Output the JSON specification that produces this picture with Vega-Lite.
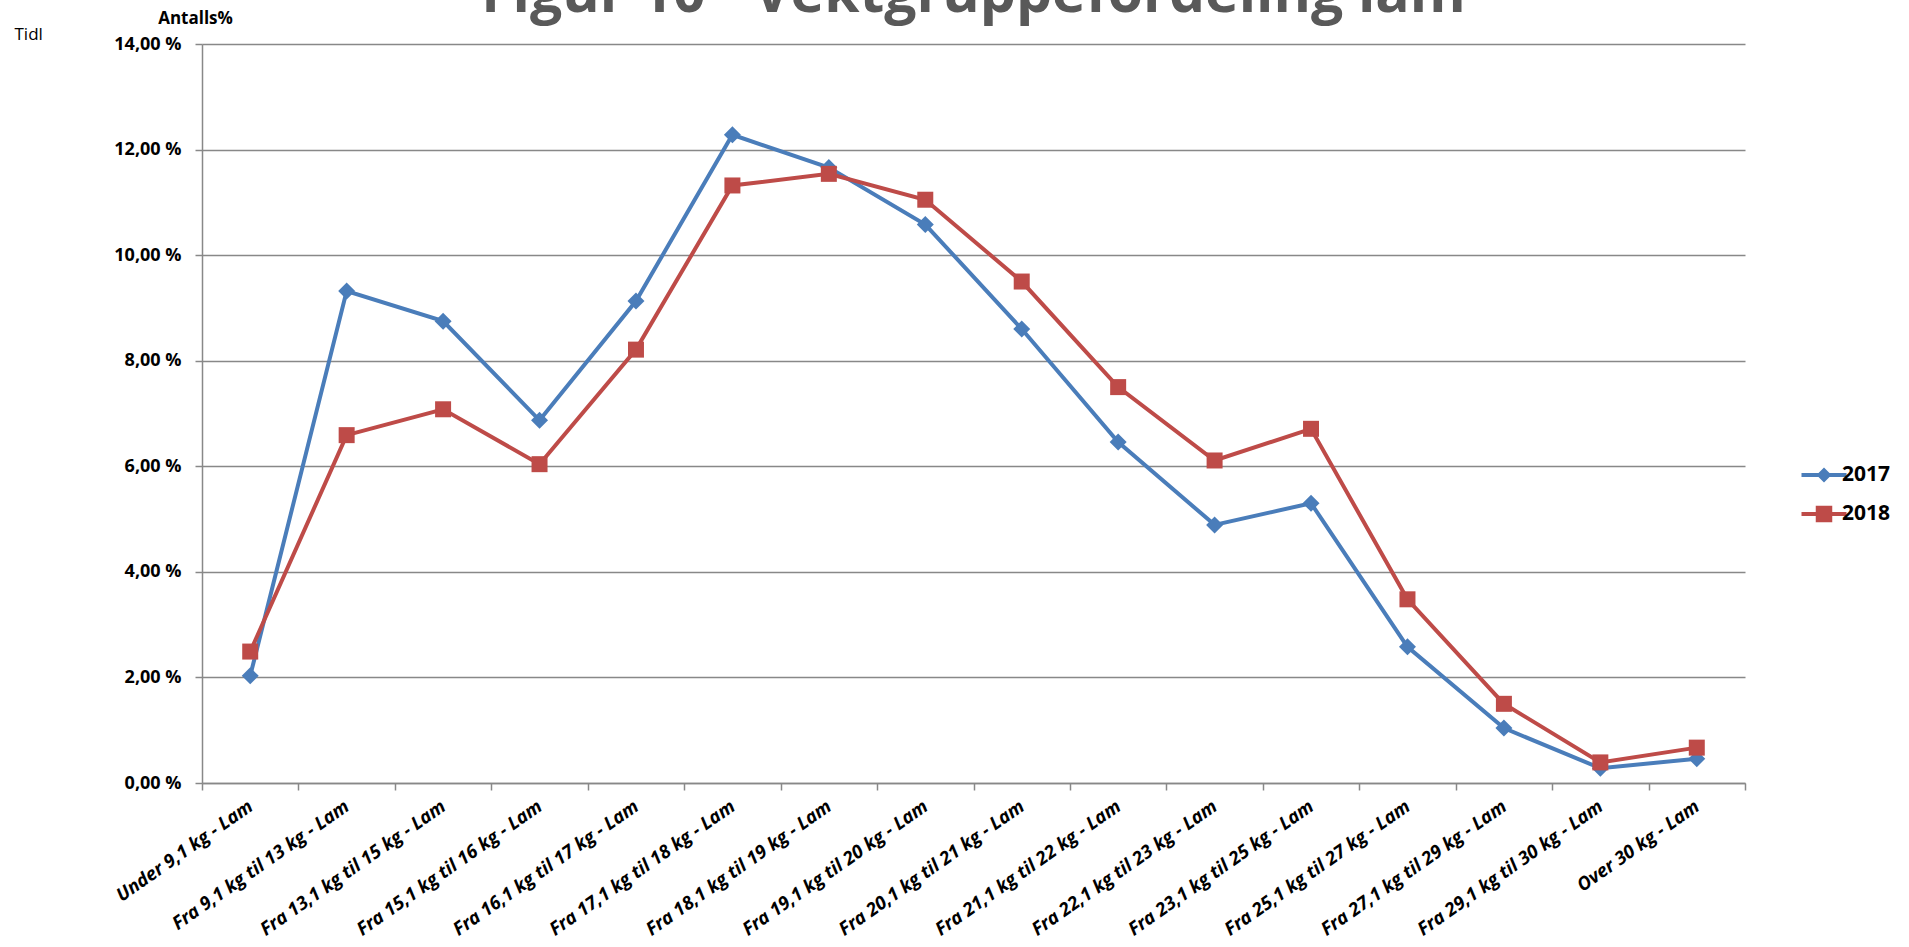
{
  "$schema": "https://vega.github.io/schema/vega-lite/v6.json",
  "autosize": {"type": "none"},
  "width": 1543,
  "height": 739,
  "padding": {"left": 202, "top": 44, "right": 164, "bottom": 164},
  "background": "white",
  "title": {
    "text": "Figur 10 - Vektgruppefordeling lam",
    "font": "Open Sans",
    "fontSize": 57,
    "fontWeight": "bold",
    "color": "#595959",
    "anchor": "middle",
    "frame": "group",
    "baseline": "alphabetic",
    "offset": -60
  },
  "data": {
    "values": [
      {"kategori": "Under 9,1 kg - Lam", "year": "2017", "andel": 2.03},
      {"kategori": "Fra 9,1 kg til 13 kg - Lam", "year": "2017", "andel": 9.32},
      {"kategori": "Fra 13,1 kg til 15 kg - Lam", "year": "2017", "andel": 8.75},
      {"kategori": "Fra 15,1 kg til 16 kg - Lam", "year": "2017", "andel": 6.87},
      {"kategori": "Fra 16,1 kg til 17 kg - Lam", "year": "2017", "andel": 9.13},
      {"kategori": "Fra 17,1 kg til 18 kg - Lam", "year": "2017", "andel": 12.28},
      {"kategori": "Fra 18,1 kg til 19 kg - Lam", "year": "2017", "andel": 11.66},
      {"kategori": "Fra 19,1 kg til 20 kg - Lam", "year": "2017", "andel": 10.58},
      {"kategori": "Fra 20,1 kg til 21 kg - Lam", "year": "2017", "andel": 8.6},
      {"kategori": "Fra 21,1 kg til 22 kg - Lam", "year": "2017", "andel": 6.46},
      {"kategori": "Fra 22,1 kg til 23 kg - Lam", "year": "2017", "andel": 4.89},
      {"kategori": "Fra 23,1 kg til 25 kg - Lam", "year": "2017", "andel": 5.3},
      {"kategori": "Fra 25,1 kg til 27 kg - Lam", "year": "2017", "andel": 2.58},
      {"kategori": "Fra 27,1 kg til 29 kg - Lam", "year": "2017", "andel": 1.04},
      {"kategori": "Fra 29,1 kg til 30 kg - Lam", "year": "2017", "andel": 0.28},
      {"kategori": "Over 30 kg - Lam", "year": "2017", "andel": 0.46},
      {"kategori": "Under 9,1 kg - Lam", "year": "2018", "andel": 2.49},
      {"kategori": "Fra 9,1 kg til 13 kg - Lam", "year": "2018", "andel": 6.59},
      {"kategori": "Fra 13,1 kg til 15 kg - Lam", "year": "2018", "andel": 7.08},
      {"kategori": "Fra 15,1 kg til 16 kg - Lam", "year": "2018", "andel": 6.04},
      {"kategori": "Fra 16,1 kg til 17 kg - Lam", "year": "2018", "andel": 8.21},
      {"kategori": "Fra 17,1 kg til 18 kg - Lam", "year": "2018", "andel": 11.32},
      {"kategori": "Fra 18,1 kg til 19 kg - Lam", "year": "2018", "andel": 11.54},
      {"kategori": "Fra 19,1 kg til 20 kg - Lam", "year": "2018", "andel": 11.05},
      {"kategori": "Fra 20,1 kg til 21 kg - Lam", "year": "2018", "andel": 9.5},
      {"kategori": "Fra 21,1 kg til 22 kg - Lam", "year": "2018", "andel": 7.5},
      {"kategori": "Fra 22,1 kg til 23 kg - Lam", "year": "2018", "andel": 6.11},
      {"kategori": "Fra 23,1 kg til 25 kg - Lam", "year": "2018", "andel": 6.71},
      {"kategori": "Fra 25,1 kg til 27 kg - Lam", "year": "2018", "andel": 3.48},
      {"kategori": "Fra 27,1 kg til 29 kg - Lam", "year": "2018", "andel": 1.5},
      {"kategori": "Fra 29,1 kg til 30 kg - Lam", "year": "2018", "andel": 0.39},
      {"kategori": "Over 30 kg - Lam", "year": "2018", "andel": 0.67}
    ]
  },
  "encoding": {
    "x": {
      "field": "kategori",
      "type": "nominal",
      "sort": ["Under 9,1 kg - Lam", "Fra 9,1 kg til 13 kg - Lam", "Fra 13,1 kg til 15 kg - Lam", "Fra 15,1 kg til 16 kg - Lam", "Fra 16,1 kg til 17 kg - Lam", "Fra 17,1 kg til 18 kg - Lam", "Fra 18,1 kg til 19 kg - Lam", "Fra 19,1 kg til 20 kg - Lam", "Fra 20,1 kg til 21 kg - Lam", "Fra 21,1 kg til 22 kg - Lam", "Fra 22,1 kg til 23 kg - Lam", "Fra 23,1 kg til 25 kg - Lam", "Fra 25,1 kg til 27 kg - Lam", "Fra 27,1 kg til 29 kg - Lam", "Fra 29,1 kg til 30 kg - Lam", "Over 30 kg - Lam"],
      "bandPosition": 0.5,
      "scale": {"type": "band", "paddingInner": 0, "paddingOuter": 0},
      "axis": {
        "title": "Tidl",
        "titleX": -188,
        "titleY": -749,
        "titleAlign": "left",
        "titleBaseline": "middle",
        "titleFont": "Open Sans",
        "titleFontSize": 17,
        "titleFontWeight": "normal",
        "titleColor": "#000000",
        "labelAngle": -35,
        "labelAlign": "right",
        "labelBaseline": "middle",
        "labelFont": "Open Sans",
        "labelFontSize": 18.5,
        "labelFontStyle": "italic",
        "labelFontWeight": "bold",
        "labelColor": "#000000",
        "labelPadding": 14,
        "labelLimit": 500,
        "labelOverlap": false,
        "labelFlush": false,
        "tickBand": "extent",
        "tickSize": 7,
        "tickColor": "#888888",
        "tickWidth": 1.5,
        "domainColor": "#888888",
        "domainWidth": 1.5,
        "grid": false
      }
    },
    "y": {
      "field": "andel",
      "type": "quantitative",
      "scale": {"domain": [0, 14], "nice": false},
      "axis": {
        "title": "Antalls%",
        "titleAngle": 0,
        "titleX": -7,
        "titleY": -26,
        "titleAlign": "center",
        "titleBaseline": "middle",
        "titleFont": "Open Sans",
        "titleFontSize": 17,
        "titleFontWeight": "bold",
        "titleColor": "#000000",
        "values": [0, 2, 4, 6, 8, 10, 12, 14],
        "labelExpr": "replace(format(datum.value, '.2f'), '.', ',') + ' %'",
        "labelFont": "Open Sans",
        "labelFontSize": 18,
        "labelFontWeight": "bold",
        "labelColor": "#000000",
        "labelPadding": 14,
        "tickSize": 7,
        "tickColor": "#888888",
        "tickWidth": 1.5,
        "grid": true,
        "gridColor": "#888888",
        "gridWidth": 1.5,
        "domainColor": "#888888",
        "domainWidth": 1.5
      }
    },
    "color": {
      "field": "year",
      "type": "nominal",
      "scale": {"domain": ["2017", "2018"], "range": ["#4A7DBA", "#BE4B48"]},
      "legend": {
        "title": null,
        "orient": "none",
        "legendX": 1607,
        "legendY": 416,
        "padding": 0,
        "symbolSize": 900,
        "symbolStrokeWidth": 0,
        "symbolOpacity": 1,
        "labelFont": "Open Sans",
        "labelFontSize": 21,
        "labelFontWeight": "bold",
        "labelColor": "#000000",
        "labelOffset": 3,
        "rowPadding": 14
      }
    }
  },
  "layer": [
    {"mark": {"type": "line", "strokeWidth": 4}},
    {
      "transform": [{"filter": "datum.year === '2017'"}],
      "mark": {"type": "point", "shape": "diamond", "filled": true, "opacity": 1, "size": 289}
    },
    {
      "transform": [{"filter": "datum.year === '2018'"}],
      "mark": {"type": "point", "shape": "square", "filled": true, "opacity": 1, "size": 256}
    },
    {
      "mark": {"type": "point", "filled": true, "opacity": 0},
      "encoding": {
        "shape": {
          "field": "year",
          "type": "nominal",
          "scale": {"domain": ["2017", "2018"], "range": ["M-1.5,-0.13L1.5,-0.13L1.5,0.13L-1.5,0.13Z M-0.5,0L0,-0.5L0.5,0L0,0.5Z", "M-1.5,-0.13L1.5,-0.13L1.5,0.13L-1.5,0.13Z M-0.55,-0.55L0.55,-0.55L0.55,0.55L-0.55,0.55Z"]},
          "legend": null
        }
      }
    }
  ],
  "config": {"view": {"stroke": null}}
}
